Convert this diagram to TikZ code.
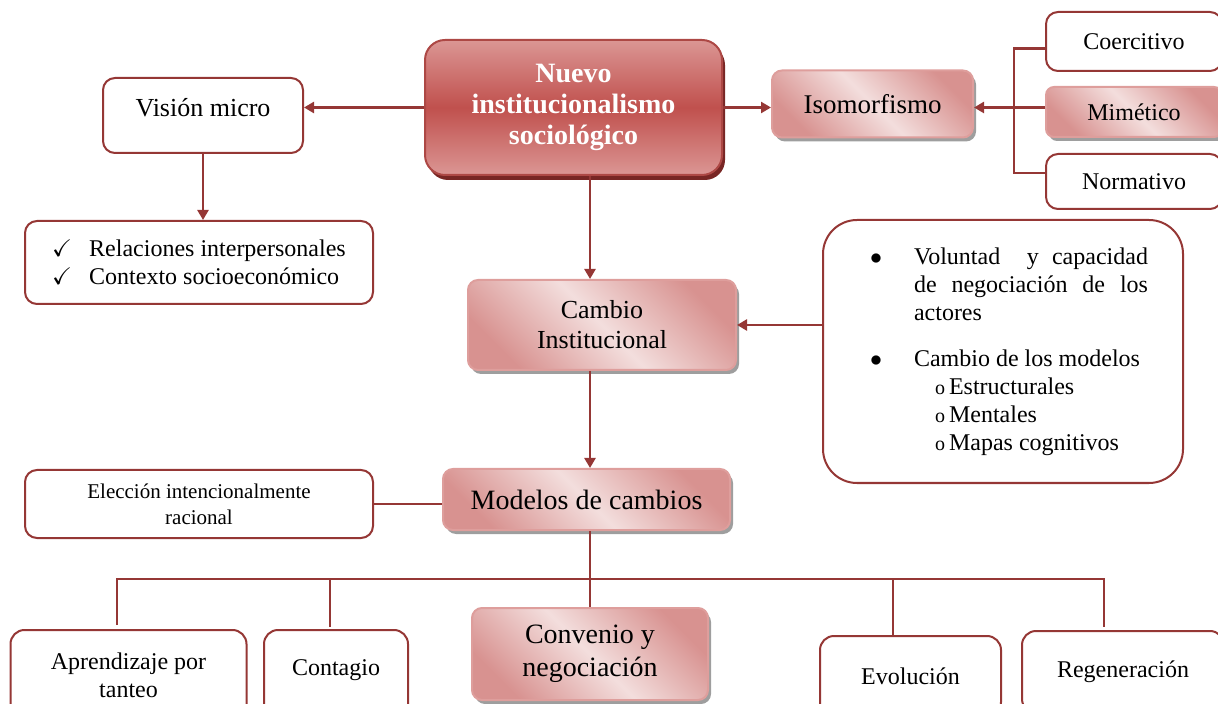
\documentclass[tikz,border=0pt]{standalone}
\usepackage{fontspec}
\setmainfont{Liberation Serif}
\usepackage{amssymb}
\usetikzlibrary{arrows.meta, positioning, shadows, calc}
\definecolor{linecolor}{RGB}{149,55,53}
\definecolor{boxborder}{RGB}{149,55,53}
\definecolor{pinkdark}{RGB}{216,146,144}
\definecolor{pinklight}{RGB}{243,222,221}
\definecolor{pinkborder}{RGB}{222,158,156}
\definecolor{mainred}{RGB}{192,80,77}
\definecolor{mainlight}{RGB}{219,150,148}
\definecolor{mainshadow}{RGB}{120,38,36}

\begin{document}
\begin{tikzpicture}[
    x=0.5pt, y=-0.5pt,
    plain/.style={draw=boxborder, line width=1pt, fill=white, rounded corners=6pt, align=center, font=\fontsize{12}{14}\selectfont},
    pinkbox/.style={draw=pinkborder, line width=1pt, rounded corners=5pt, shading=axis, top color=pinkdark, bottom color=pinkdark, middle color=pinklight, shading angle=-45, align=center, drop shadow={shadow xshift=1.5pt, shadow yshift=-2pt, fill=black!38, opacity=1}, font=\fontsize{13}{15}\selectfont},
    mainbox/.style={draw=mainred!90!black, line width=1pt, rounded corners=10pt, shading=axis, top color=mainlight, bottom color=mainlight, middle color=mainred, align=center, text=white, drop shadow={shadow xshift=1.5pt, shadow yshift=-2.5pt, fill=mainshadow, opacity=1}, font=\fontsize{14}{15.5}\selectfont\bfseries},
    arrow/.style={-{Triangle[length=5pt,width=5.5pt]}, line width=1.2pt, draw=linecolor},
    link/.style={line width=1.2pt, draw=linecolor}
]
    \useasboundingbox (0,0) rectangle (1218,704);
    \clip (0,0) rectangle (1218,704);

    % Central node
    \node[mainbox, minimum width=148.5pt, minimum height=67.5pt] (nuevo) at (573.5,107.5) {Nuevo\\institucionalismo\\sociológico};

    % Left branch
    \node[plain, minimum width=100pt, minimum height=37.5pt, font=\fontsize{13}{15}\selectfont] (vision) at (203,115.5) {\raisebox{4pt}[\height][\depth]{Visión micro}};
    \node[plain, minimum width=174pt, minimum height=41.5pt, align=left] (relaciones) at (199,262.5)
        {\makebox[18.5pt][l]{$\checkmark$}Relaciones interpersonales\\\makebox[18.5pt][l]{$\checkmark$}Contexto socioeconómico};

    % Isomorfismo branch
    \node[pinkbox, minimum width=100.5pt, minimum height=33.5pt, font=\fontsize{13.5}{15}\selectfont] (isomorfismo) at (872.5,104) {Isomorfismo};
    \node[plain, minimum width=88pt, minimum height=29.5pt] (coercitivo) at (1134,41.5) {Coercitivo};
    \node[pinkbox, minimum width=88pt, minimum height=25pt, rounded corners=4pt, font=\fontsize{12}{14}\selectfont] (mimetico) at (1134,112) {Mimético};
    \node[plain, minimum width=88pt, minimum height=27.5pt] (normativo) at (1134,181.5) {Normativo};

    % Cambio institucional
    \node[pinkbox, minimum width=134pt, minimum height=45pt, font=\fontsize{13}{15}\selectfont] (cambio) at (602,325) {Cambio\\Institucional};
    \node[plain, rounded corners=17pt, minimum width=180pt, minimum height=131.5pt] (factores) at (1003,351.5)
        {\hspace*{6pt}\parbox{139pt}{\setlength{\parindent}{0pt}%
        \makebox[22pt][l]{$\bullet$}\makebox[117pt][s]{Voluntad\ \ y capacidad}\\
        \hspace*{22pt}\makebox[117pt][s]{de negociación de los}\\
        \hspace*{22pt}actores\\[9pt]
        \makebox[22pt][l]{$\bullet$}Cambio de los modelos\\
        \hspace*{32.5pt}{\fontsize{10}{12}\selectfont o}\,Estructurales\\
        \hspace*{32.5pt}{\fontsize{10}{12}\selectfont o}\,Mentales\\
        \hspace*{32.5pt}{\fontsize{10}{12}\selectfont o}\,Mapas cognitivos}};

    % Modelos de cambios
    \node[pinkbox, minimum width=143.5pt, minimum height=30.5pt, font=\fontsize{14}{16}\selectfont] (modelos) at (586.5,499.5) {Modelos de cambios};
    \node[plain, minimum width=174pt, minimum height=34pt, font=\fontsize{10.5}{13}\selectfont] (eleccion) at (199,504) {Elección intencionalmente\\racional};

    % Bottom row
    \node[plain, rounded corners=7pt, minimum width=118pt, minimum height=45pt] (aprendizaje) at (128.5,675) {Aprendizaje por\\tanteo};
    \node[plain, rounded corners=7pt, minimum width=72pt, minimum height=45pt] (contagio) at (336,675) {\raisebox{2.5pt}[\height][\depth]{Contagio}};
    \node[pinkbox, minimum width=118pt, minimum height=46pt, font=\fontsize{14}{16.5}\selectfont] (convenio) at (590,654) {Convenio y\\negociación};
    \node[plain, rounded corners=7pt, minimum width=90.5pt, minimum height=40pt] (evolucion) at (910.5,676) {Evolución};
    \node[plain, rounded corners=7pt, minimum width=101pt, minimum height=41pt] (regeneracion) at (1123,672) {Regeneración};

    % Tree points
    \coordinate (barL) at (117,579);
    \coordinate (barR) at (1104,579);
    \coordinate (dropA) at (117,625);
    \coordinate (dropC) at (330,627);
    \coordinate (dropE) at (893,636);
    \coordinate (dropR) at (1104,627);

    % Arrows
    \draw[arrow] (nuevo.west) -- (vision.east |- nuevo.west);
    \draw[arrow] (nuevo.east) -- (isomorfismo.west |- nuevo.east);
    \draw[arrow] (vision.south) -- (vision.south |- relaciones.north);
    \draw[arrow] (mimetico.west |- nuevo.east) -- (isomorfismo.east |- nuevo.east);
    \draw[link] ([yshift=-3.5pt]coercitivo.west) -| ([xshift=-15.5pt]mimetico.west) |- ([yshift=4.25pt]normativo.west);
    \draw[arrow] (nuevo.south -| convenio.north) -- (cambio.north -| convenio.north);
    \draw[arrow] (factores.west |- cambio.east) -- (cambio.east);
    \draw[arrow] (cambio.south -| convenio.north) -- (modelos.north -| convenio.north);
    \draw[link] (eleccion.east) -- (modelos.west |- eleccion.east);

    % Tree
    \draw[link] (modelos.south -| convenio.north) -- (convenio.north);
    \draw[link] (dropA) -- (barL) -- (barR) -- (dropR);
    \draw[link] (dropC) -- (dropC |- barL);
    \draw[link] (dropE) -- (dropE |- barL);
\end{tikzpicture}
\end{document}
